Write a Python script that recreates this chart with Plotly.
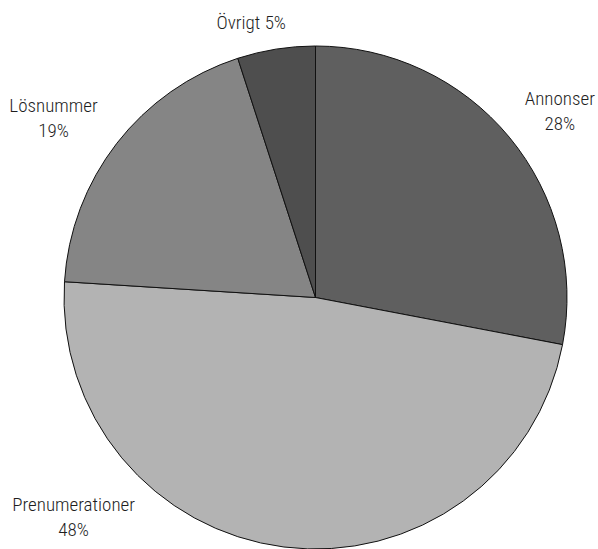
import plotly.graph_objects as go

labels = ["Annonser", "Prenumerationer", "Lösnummer", "Övrigt"]
values = [28, 48, 19, 5]
colors = ["#5f5f5f", "#b3b3b3", "#858585", "#4e4e4e"]
label_text = ["Annonser<br>28%", "Prenumerationer<br>48%", "Lösnummer<br>19%", "Övrigt 5%"]
# label centres in pixels of the 598x549 page
label_px = [560, 74, 54, 251]
label_py = [111, 517, 118, 22]

W, H = 598, 549
L, R, T, B = 64, 31, 46, 0
fig = go.Figure(go.Pie(
    labels=labels, values=values, sort=False, direction="clockwise",
    rotation=0, marker=dict(colors=colors, line=dict(color="#111111", width=1)),
    textinfo="none", hoverinfo="label+percent", showlegend=False,
))

font = dict(family="Roboto, Open Sans, sans-serif", size=19, color="#1e1e1e", weight=360)
pw, ph = W - L - R, H - T - B
for t, px, py in zip(label_text, label_px, label_py):
    fig.add_annotation(text=t, x=(px - L) / pw, y=1 - (py - T) / ph, xref="paper", yref="paper",
                       showarrow=False, xanchor="center", yanchor="middle",
                       font=font, align="center")

post = """
document.querySelectorAll('.annotation-text').forEach(function(e){ e.style.fontStretch = '75%'; });
"""
fig.update_layout(width=W, height=H, margin=dict(l=L, r=R, t=T, b=B),
                  paper_bgcolor="white", plot_bgcolor="white")
fig.write_html("out.html", post_script=post)
